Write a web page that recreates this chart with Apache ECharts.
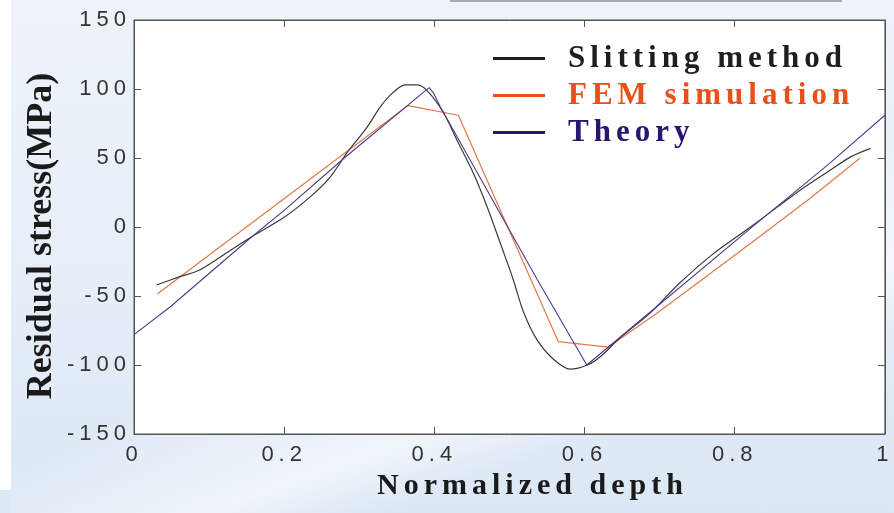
<!DOCTYPE html>
<html>
<head>
<meta charset="utf-8">
<script src="https://cdn.jsdelivr.net/npm/echarts@6/dist/echarts.min.js"></script>
<style>
  html, body { margin: 0; padding: 0; background: #fff; }
  #wrap { position: relative; width: 894px; height: 513px; overflow: hidden; }
  #bg {
    position: absolute; left: 11px; top: 0; width: 883px; height: 513px;
    background:
      linear-gradient(160deg, rgba(255,255,255,0) 55%, rgba(255,255,255,0.55) 70%, rgba(255,255,255,0) 78%),
      linear-gradient(180deg, #eef3f9 0%, #e6eef8 55%, #dbe7f4 100%);
  }
  #strip { position: absolute; left: 0; top: 490px; width: 11px; height: 23px; background: #dde8f5; }
  #main { position: absolute; left: 0; top: 0; width: 894px; height: 513px; }
</style>
</head>
<body>
<div id="wrap">
  <div id="bg"></div>
  <div id="strip"></div>
  <div id="main"></div>
</div>
<script>
// 数据 ----
const slittingDepth  = [0.03, 0.061, 0.088, 0.128, 0.16, 0.2, 0.235, 0.261, 0.284, 0.31, 0.328, 0.344, 0.361, 0.377, 0.39, 0.412, 0.43, 0.452, 0.47, 0.49, 0.505, 0.519, 0.537, 0.559, 0.581, 0.604, 0.621, 0.648, 0.688, 0.724, 0.77, 0.821, 0.888, 0.924, 0.955, 0.981];
const slittingStress = [-42, -36, -31, -17, -6, 7, 22, 36, 54, 72, 87, 97, 103, 103, 99, 83, 63, 39, 15, -15, -38, -62, -82, -96, -103, -100, -94, -80, -62, -42, -20, 0, 27, 40, 51, 57];

const femDepth  = [0.031, 0.365, 0.432, 0.565, 0.632, 0.7, 0.821, 0.901, 0.967];
const femStress = [-48.5, 88, 81, -83, -87, -61, -12, 21, 50];

const theoryDepth  = [0, 0.048, 0.155, 0.2, 0.28, 0.393, 0.399, 0.408, 0.537, 0.603, 0.7, 0.821, 0.924, 1];
const theoryStress = [-78, -58, -8, 12, 50, 101, 97, 87, -38, -100, -56, -1, 45, 81];

const seriesNames = ['Slitting method', 'FEM simulation', 'Theory'];
const lineColors  = ['#3a3a3a', '#e07a45', '#4b3b8c'];
const legendColors = ['#1e1e1e', '#e8501a', '#2a1570'];

function zip(xs, ys) { return xs.map((x, i) => [x, ys[i]]); }

// 字距：原图文字间距较宽，画布绘字时加上 letterSpacing（纵轴标题除外）
(function () {
    const proto = CanvasRenderingContext2D.prototype;
    const origFill = proto.fillText;
    proto.fillText = function (t, x, y, w) {
        if ('letterSpacing' in this) {
            this.letterSpacing = /36px/.test(this.font) ? '0px' : '5px';
        }
        return w === undefined ? origFill.call(this, t, x, y) : origFill.call(this, t, x, y, w);
    };
})();

let tickFont = 'Liberation Sans';
let titleFont = 'Liberation Serif';
let axisColor = '#555555';

// 四条边都有刻度，刻度朝内
function boxAxis(extra) {
    return Object.assign({
        type: 'value',
        z: 10,
        axisLine: { show: true, onZero: false, lineStyle: { color: axisColor, width: 1 } },
        axisTick: { show: true, inside: true, length: 7, lineStyle: { color: axisColor, width: 1 } },
        axisLabel: { show: false },
        splitLine: { show: false }
    }, extra);
}

let chart = echarts.init(document.getElementById('main'), null, { renderer: 'canvas' });

let option = {
    backgroundColor: 'transparent',
    animation: false,
    graphic: [
        { type: 'line', shape: { x1: 450, y1: 1, x2: 842, y2: 1 }, style: { stroke: '#a3abb4', lineWidth: 2 }, silent: true }
    ],
    grid: {
        left: 134, right: 9, top: 20, bottom: 79,
        show: true,
        z: 0,
        backgroundColor: '#ffffff',
        borderColor: axisColor,
        borderWidth: 1
    },
    legend: {
        orient: 'vertical',
        left: 488,
        top: 38,
        itemWidth: 52,
        itemHeight: 3,
        itemGap: 6,
        icon: 'rect',
        textStyle: {
            fontFamily: titleFont,
            fontWeight: 'bold',
            fontSize: 31,
            lineHeight: 31,
            padding: [0, 0, 0, 18]
        },
        data: seriesNames.map((n, i) => ({
            name: n,
            itemStyle: { color: legendColors[i] },
            textStyle: { color: legendColors[i] }
        }))
    },
    xAxis: [
        boxAxis({
            min: 0, max: 1, interval: 0.2,
            position: 'bottom',
            name: 'Normalized depth',
            nameLocation: 'middle',
            nameGap: 32,
            nameTextStyle: {
                fontFamily: titleFont, fontWeight: 'bold', fontSize: 30, color: '#1a1a1a',
                padding: [0, 0, 0, 46]
            },
            axisLabel: { show: true, fontFamily: tickFont, fontSize: 22, color: '#333', margin: 10 }
        }),
        boxAxis({ min: 0, max: 1, interval: 0.2, position: 'top' })
    ],
    yAxis: [
        boxAxis({
            min: -150, max: 150, interval: 50,
            position: 'left',
            name: 'Residual stress(MPa)',
            nameLocation: 'middle',
            nameGap: 74,
            nameTextStyle: {
                fontFamily: titleFont, fontWeight: 'bold', fontSize: 36, color: '#1a1a1a',
                padding: [0, 18, 0, 0]
            },
            axisLabel: { show: true, fontFamily: tickFont, fontSize: 22, color: '#333', margin: 3 }
        }),
        boxAxis({ min: -150, max: 150, interval: 50, position: 'right' })
    ],
    series: [
        {
            name: seriesNames[0], type: 'line', data: zip(slittingDepth, slittingStress),
            smooth: 0.3, showSymbol: false, symbol: 'none',
            lineStyle: { color: lineColors[0], width: 1.2 }, itemStyle: { color: lineColors[0] }, z: 3
        },
        {
            name: seriesNames[1], type: 'line', data: zip(femDepth, femStress),
            showSymbol: false, symbol: 'none',
            lineStyle: { color: lineColors[1], width: 1.2 }, itemStyle: { color: lineColors[1] }, z: 2
        },
        {
            name: seriesNames[2], type: 'line', data: zip(theoryDepth, theoryStress),
            showSymbol: false, symbol: 'none',
            lineStyle: { color: lineColors[2], width: 1.1 }, itemStyle: { color: lineColors[2] }, z: 4
        }
    ]
};

chart.setOption(option);
window.addEventListener('resize', function () { chart.resize(); });
</script>
</body>
</html>
